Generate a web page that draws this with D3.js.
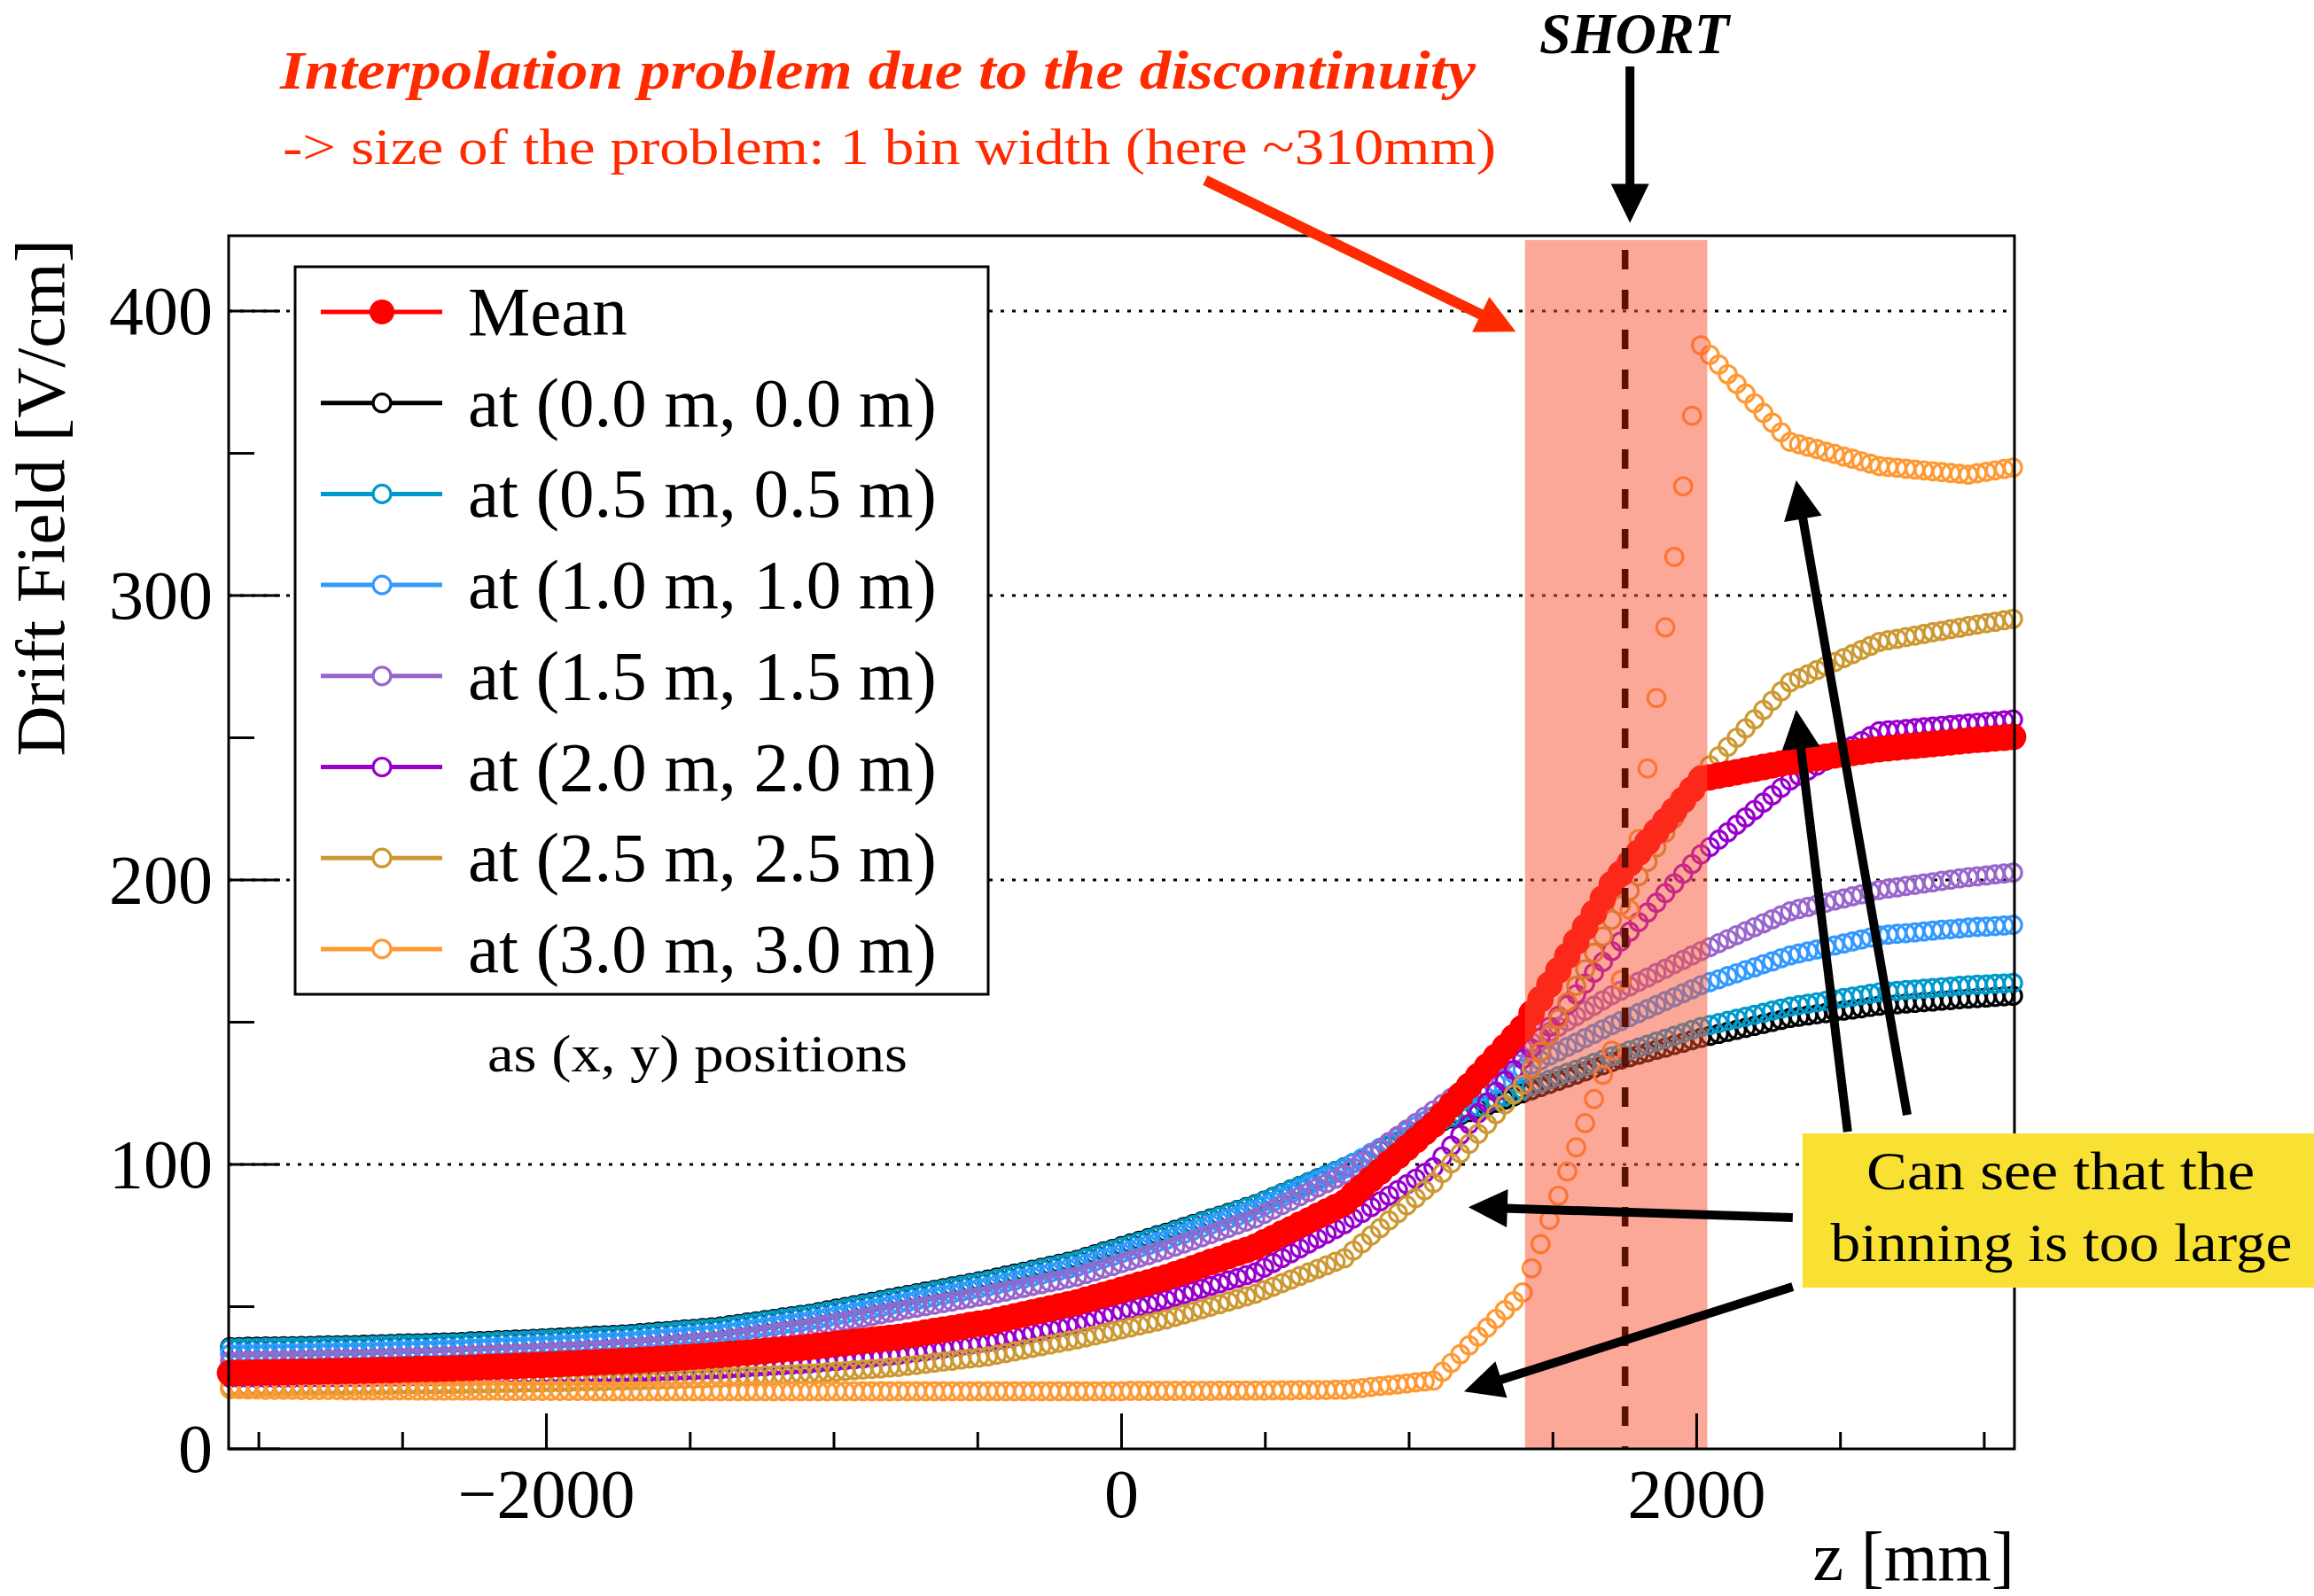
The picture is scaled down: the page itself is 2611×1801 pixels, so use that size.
<!DOCTYPE html>
<html>
<head>
<meta charset="utf-8">
<script src="https://cdn.jsdelivr.net/npm/d3@7"></script>
<style>
  html, body { margin: 0; padding: 0; background: #ffffff; }
  svg { display: block; }
</style>
</head>
<body>
<svg id="chart" width="2611" height="1801"></svg>
<script>
// z sampling positions [mm]
const zValues = [
  -3100,-3069,-3038,-3007,-2976,-2945,-2914,-2883,-2852,-2821,
  -2790,-2759,-2728,-2697,-2666,-2635,-2604,-2573,-2542,-2511,
  -2480,-2449,-2418,-2387,-2356,-2325,-2294,-2263,-2232,-2201,
  -2170,-2139,-2108,-2077,-2046,-2015,-1984,-1953,-1922,-1891,
  -1860,-1829,-1798,-1767,-1736,-1705,-1674,-1643,-1612,-1581,
  -1550,-1519,-1488,-1457,-1426,-1395,-1364,-1333,-1302,-1271,
  -1240,-1209,-1178,-1147,-1116,-1085,-1054,-1023,-992,-961,
  -930,-899,-868,-837,-806,-775,-744,-713,-682,-651,
  -620,-589,-558,-527,-496,-465,-434,-403,-372,-341,
  -310,-279,-248,-217,-186,-155,-124,-93,-62,-31,
  0,31,62,93,124,155,186,217,248,279,
  310,341,372,403,434,465,496,527,558,589,
  620,651,682,713,744,775,806,837,868,899,
  930,961,992,1023,1054,1085,1116,1147,1178,1209,
  1240,1271,1302,1333,1364,1395,1426,1457,1488,1519,
  1550,1581,1612,1643,1674,1705,1736,1767,1798,1829,
  1860,1891,1922,1953,1984,2015,2046,2077,2108,2139,
  2170,2201,2232,2263,2294,2325,2356,2387,2418,2449,
  2480,2511,2542,2573,2604,2635,2666,2697,2728,2759,
  2790,2821,2852,2883,2914,2945,2976,3007,3038,3069,
  3100
];

// Drift field [V/cm] at (0.0 m, 0.0 m)
const field00 = [
  35.8,35.8,35.9,35.9,36.0,36.0,
  36.1,36.1,36.2,36.2,36.3,36.4,36.4,36.5,36.5,36.6,
  36.7,36.8,36.9,37.0,37.1,37.1,37.2,37.3,37.4,37.5,
  37.6,37.8,37.9,38.0,38.2,38.3,38.4,38.5,38.7,38.8,
  39.0,39.1,39.3,39.4,39.6,39.8,39.9,40.1,40.2,40.4,
  40.7,40.9,41.2,41.4,41.7,42.0,42.2,42.5,42.7,43.0,
  43.5,43.9,44.4,44.8,45.3,45.7,46.2,46.6,47.1,47.5,
  48.1,48.7,49.3,49.9,50.5,51.1,51.7,52.3,52.9,53.5,
  54.1,54.7,55.3,55.9,56.5,57.1,57.7,58.3,58.9,59.5,
  60.2,60.9,61.6,62.3,63.0,63.7,64.4,65.1,65.8,66.5,
  67.5,68.4,69.4,70.3,71.3,72.2,73.2,74.1,75.1,76.0,
  77.0,78.0,79.0,80.0,81.0,82.0,83.0,84.0,85.0,86.0,
  87.3,88.6,89.9,91.2,92.5,93.8,95.1,96.4,97.7,99.0,
  100.5,102.0,103.5,105.0,106.5,108.0,109.5,111.0,112.5,114.0,
  115.1,116.2,117.3,118.4,119.5,120.6,121.7,122.8,123.9,125.0,
  126.1,127.2,128.3,129.4,130.5,131.6,132.7,133.8,134.9,136.0,
  136.9,137.7,138.6,139.4,140.3,141.1,142.0,142.8,143.7,144.5,
  145.2,145.9,146.6,147.3,148.0,148.7,149.4,150.1,150.8,151.5,
  151.9,152.4,152.8,153.2,153.7,154.1,154.5,154.9,155.4,155.8,
  156.1,156.3,156.6,156.8,157.1,157.3,157.6,157.8,158.1,158.3,
  158.5,158.7,158.9,159.1,159.3
];

// Drift field at (0.5 m, 0.5 m)
const field05 = [
  35.4,35.4,35.5,35.5,35.6,35.6,
  35.7,35.7,35.8,35.8,35.9,36.0,36.0,36.1,36.1,36.2,
  36.3,36.4,36.5,36.6,36.7,36.7,36.8,36.9,37.0,37.1,
  37.2,37.4,37.5,37.6,37.8,37.9,38.0,38.1,38.3,38.4,
  38.6,38.7,38.9,39.0,39.2,39.4,39.5,39.7,39.8,40.0,
  40.3,40.5,40.8,41.0,41.3,41.6,41.8,42.1,42.3,42.6,
  43.1,43.5,44.0,44.4,44.9,45.3,45.8,46.2,46.7,47.1,
  47.7,48.3,48.9,49.5,50.1,50.7,51.3,51.9,52.5,53.1,
  53.7,54.3,54.9,55.5,56.1,56.7,57.3,57.9,58.5,59.1,
  59.8,60.5,61.2,61.9,62.6,63.3,64.0,64.7,65.4,66.1,
  67.1,68.0,69.0,69.9,70.9,71.8,72.8,73.7,74.7,75.6,
  76.6,77.6,78.7,79.7,80.7,81.7,82.7,83.8,84.8,85.8,
  87.1,88.4,89.8,91.1,92.4,93.7,95.0,96.4,97.7,99.0,
  100.5,102.1,103.6,105.1,106.7,108.2,109.7,111.2,112.8,114.3,
  115.5,116.7,117.9,119.1,120.3,121.5,122.7,123.9,125.1,126.3,
  127.5,128.6,129.8,131.0,132.2,133.3,134.5,135.7,136.8,138.0,
  139.0,140.1,141.1,142.1,143.2,144.2,145.2,146.2,147.3,148.3,
  149.0,149.7,150.5,151.2,151.9,152.6,153.3,154.1,154.8,155.5,
  156.0,156.5,157.0,157.5,158.0,158.5,159.0,159.5,160.0,160.5,
  160.8,161.0,161.3,161.5,161.8,162.0,162.3,162.5,162.8,163.0,
  163.2,163.3,163.5,163.6,163.8
];

// Drift field at (1.0 m, 1.0 m)
const field10 = [
  33.3,33.3,33.4,33.4,33.5,33.5,
  33.6,33.6,33.7,33.7,33.8,33.9,33.9,34.0,34.0,34.1,
  34.2,34.3,34.4,34.5,34.6,34.6,34.7,34.8,34.9,35.0,
  35.1,35.3,35.4,35.5,35.7,35.8,35.9,36.0,36.2,36.3,
  36.5,36.6,36.8,36.9,37.1,37.3,37.4,37.6,37.7,37.9,
  38.2,38.4,38.7,38.9,39.2,39.5,39.7,40.0,40.2,40.5,
  41.0,41.4,41.9,42.3,42.8,43.2,43.7,44.1,44.6,45.0,
  45.6,46.2,46.8,47.4,48.0,48.6,49.2,49.8,50.4,51.0,
  51.6,52.2,52.8,53.4,54.0,54.6,55.2,55.8,56.4,57.0,
  57.7,58.4,59.1,59.8,60.5,61.2,61.9,62.6,63.3,64.0,
  65.0,65.9,66.9,67.8,68.8,69.7,70.7,71.6,72.6,73.5,
  74.6,75.6,76.7,77.7,78.8,79.8,80.9,81.9,83.0,84.0,
  85.5,86.9,88.4,89.8,91.3,92.7,94.2,95.6,97.1,98.5,
  100.4,102.2,104.1,105.9,107.8,109.6,111.5,113.3,115.2,117.0,
  118.7,120.3,122.0,123.6,125.3,126.9,128.6,130.2,131.9,133.5,
  135.1,136.6,138.2,139.7,141.3,142.8,144.4,145.9,147.5,149.0,
  150.4,151.8,153.2,154.6,156.0,157.4,158.8,160.2,161.6,163.0,
  164.1,165.1,166.2,167.2,168.3,169.3,170.4,171.4,172.5,173.5,
  174.2,174.9,175.6,176.3,177.0,177.7,178.4,179.1,179.8,180.5,
  180.8,181.1,181.3,181.6,181.9,182.2,182.5,182.7,183.0,183.3,
  183.5,183.6,183.8,184.0,184.2
];

// Drift field at (1.5 m, 1.5 m)
const field15 = [
  30.8,30.8,30.9,30.9,31.0,31.0,
  31.1,31.1,31.2,31.2,31.3,31.4,31.4,31.5,31.5,31.6,
  31.7,31.8,31.9,32.0,32.1,32.1,32.2,32.3,32.4,32.5,
  32.6,32.8,32.9,33.0,33.2,33.3,33.4,33.5,33.7,33.8,
  34.0,34.1,34.3,34.4,34.6,34.8,34.9,35.1,35.2,35.4,
  35.7,35.9,36.2,36.4,36.7,37.0,37.2,37.5,37.7,38.0,
  38.5,38.9,39.4,39.8,40.3,40.7,41.2,41.6,42.1,42.5,
  43.1,43.7,44.3,44.9,45.5,46.1,46.7,47.3,47.9,48.5,
  49.1,49.6,50.2,50.7,51.3,51.8,52.4,52.9,53.5,54.0,
  54.7,55.3,56.0,56.6,57.3,57.9,58.6,59.2,59.9,60.5,
  61.5,62.4,63.4,64.3,65.3,66.2,67.2,68.1,69.1,70.0,
  71.1,72.2,73.3,74.4,75.5,76.6,77.7,78.8,79.9,81.0,
  82.6,84.1,85.7,87.2,88.8,90.3,91.9,93.4,95.0,96.5,
  98.8,101.0,103.3,105.5,107.8,110.0,112.3,114.5,116.8,119.0,
  121.2,123.4,125.6,127.8,130.0,132.2,134.4,136.6,138.8,141.0,
  142.9,144.7,146.6,148.4,150.3,152.1,154.0,155.8,157.7,159.5,
  161.1,162.6,164.2,165.7,167.3,168.8,170.4,171.9,173.5,175.0,
  176.4,177.8,179.2,180.6,182.0,183.4,184.8,186.2,187.6,189.0,
  189.8,190.5,191.3,192.0,192.8,193.5,194.3,195.0,195.8,196.5,
  197.0,197.4,197.9,198.3,198.8,199.2,199.7,200.1,200.6,201.0,
  201.3,201.6,202.0,202.3,202.6
];

// Drift field at (2.0 m, 2.0 m)
const field20 = [
  25.0,25.0,25.0,25.0,25.0,25.0,
  25.0,25.0,25.1,25.1,25.1,25.1,25.1,25.2,25.2,25.2,
  25.2,25.3,25.3,25.3,25.4,25.4,25.4,25.4,25.5,25.5,
  25.6,25.6,25.7,25.7,25.8,25.8,25.9,25.9,26.0,26.0,
  26.1,26.2,26.2,26.3,26.4,26.5,26.6,26.6,26.7,26.8,
  26.9,27.0,27.2,27.3,27.4,27.5,27.6,27.8,27.9,28.0,
  28.2,28.4,28.6,28.8,29.0,29.2,29.4,29.6,29.8,30.0,
  30.3,30.6,30.9,31.2,31.5,31.8,32.1,32.4,32.7,33.0,
  33.5,33.9,34.4,34.8,35.3,35.7,36.2,36.6,37.1,37.5,
  38.2,38.8,39.5,40.1,40.8,41.4,42.1,42.7,43.4,44.0,
  44.9,45.7,46.6,47.4,48.3,49.1,50.0,50.8,51.7,52.5,
  53.5,54.4,55.4,56.3,57.3,58.2,59.2,60.1,61.1,62.0,
  63.7,65.4,67.1,68.8,70.5,72.2,73.9,75.6,77.3,79.0,
  81.0,83.0,85.0,87.0,89.0,91.0,93.0,95.0,97.0,99.0,
  102.8,106.6,110.4,114.2,118.0,121.8,125.6,129.4,133.2,137.0,
  140.8,144.6,148.4,152.2,156.0,159.8,163.6,167.4,171.2,175.0,
  178.4,181.8,185.2,188.6,192.0,195.4,198.8,202.2,205.6,209.0,
  211.6,214.2,216.8,219.4,222.0,224.6,227.2,229.8,232.4,235.0,
  236.7,238.5,240.2,241.9,243.7,245.4,247.1,248.8,250.6,252.3,
  252.6,252.8,253.1,253.4,253.7,253.9,254.2,254.5,254.7,255.0,
  255.3,255.6,255.8,256.1,256.4
];

// Drift field at (2.5 m, 2.5 m)
const field25 = [
  21.8,21.8,21.9,21.9,22.0,22.0,
  22.0,22.1,22.1,22.1,22.2,22.2,22.2,22.2,22.3,22.3,
  22.3,22.4,22.4,22.5,22.5,22.5,22.6,22.6,22.7,22.7,
  22.8,22.8,22.9,22.9,23.0,23.1,23.1,23.2,23.2,23.3,
  23.4,23.4,23.5,23.6,23.7,23.7,23.8,23.9,23.9,24.0,
  24.1,24.2,24.3,24.4,24.5,24.6,24.7,24.8,24.9,25.0,
  25.2,25.3,25.5,25.6,25.8,25.9,26.1,26.2,26.4,26.5,
  26.7,27.0,27.2,27.4,27.7,27.9,28.1,28.3,28.6,28.8,
  29.2,29.5,29.9,30.3,30.7,31.0,31.4,31.8,32.1,32.5,
  33.1,33.7,34.3,34.9,35.5,36.1,36.7,37.3,37.9,38.5,
  39.2,39.9,40.6,41.3,42.0,42.7,43.4,44.1,44.8,45.5,
  46.4,47.3,48.2,49.1,50.0,50.9,51.8,52.7,53.6,54.5,
  55.8,57.0,58.3,59.5,60.8,62.0,63.3,64.5,65.8,67.0,
  69.7,72.3,75.0,77.6,80.3,82.9,85.6,88.2,90.9,93.5,
  97.0,100.4,103.9,107.3,110.8,114.2,117.7,121.1,124.6,128.0,
  133.8,139.6,145.4,151.2,157.0,162.8,168.6,174.4,180.2,186.0,
  191.1,196.2,201.3,206.4,211.5,216.6,221.7,226.8,231.9,237.0,
  240.3,243.5,246.8,250.0,253.3,256.5,259.8,263.0,266.3,269.5,
  270.9,272.3,273.8,275.2,276.6,278.0,279.4,280.9,282.3,283.7,
  284.3,284.8,285.4,285.9,286.5,287.1,287.6,288.2,288.7,289.3,
  289.8,290.3,290.8,291.3,291.8
];

// Drift field at (3.0 m, 3.0 m)
const field30 = [
  21.0,21.0,20.9,20.9,20.8,20.8,
  20.8,20.8,20.7,20.7,20.7,20.7,20.7,20.6,20.6,20.6,
  20.6,20.6,20.6,20.6,20.6,20.5,20.5,20.5,20.5,20.5,
  20.5,20.5,20.5,20.5,20.5,20.4,20.4,20.4,20.4,20.4,
  20.4,20.4,20.4,20.4,20.4,20.3,20.3,20.3,20.3,20.3,
  20.3,20.3,20.3,20.3,20.3,20.3,20.3,20.3,20.3,20.3,
  20.3,20.3,20.3,20.3,20.3,20.3,20.3,20.3,20.3,20.3,
  20.3,20.3,20.3,20.3,20.3,20.3,20.3,20.3,20.3,20.3,
  20.3,20.3,20.3,20.3,20.3,20.3,20.3,20.3,20.3,20.3,
  20.3,20.3,20.3,20.3,20.3,20.3,20.3,20.3,20.3,20.3,
  20.3,20.3,20.3,20.3,20.3,20.4,20.4,20.4,20.4,20.4,
  20.4,20.4,20.4,20.4,20.4,20.5,20.5,20.5,20.5,20.5,
  20.5,20.6,20.6,20.6,20.7,20.7,20.7,20.7,20.8,20.8,
  21.1,21.4,21.8,22.1,22.4,22.7,23.0,23.4,23.7,24.0,
  27.1,30.2,33.3,36.4,39.5,42.6,45.7,48.8,51.9,55.0,
  63.5,72.0,80.5,89.0,97.5,106.0,114.5,123.0,131.5,140.0,
  164.8,189.6,214.4,239.2,264.0,288.8,313.6,338.4,363.2,388.0,
  384.6,381.2,377.8,374.4,371.0,367.6,364.2,360.8,357.4,354.0,
  353.2,352.3,351.5,350.6,349.8,348.9,348.1,347.2,346.4,345.5,
  345.2,344.9,344.6,344.3,344.0,343.7,343.4,343.1,342.8,342.5,
  343.0,343.5,344.0,344.5,345.0
];

// Mean drift field over the (x, y) positions
const fieldMean = [
  26.7,26.7,26.8,26.8,26.9,26.9,
  27.0,27.0,27.1,27.1,27.2,27.3,27.3,27.4,27.4,27.5,
  27.6,27.7,27.7,27.8,27.9,28.0,28.1,28.1,28.2,28.3,
  28.4,28.5,28.7,28.8,28.9,29.0,29.1,29.3,29.4,29.5,
  29.7,29.8,30.0,30.1,30.3,30.4,30.6,30.7,30.9,31.0,
  31.2,31.4,31.6,31.8,32.0,32.2,32.4,32.6,32.8,33.0,
  33.3,33.6,33.8,34.1,34.4,34.7,35.0,35.2,35.5,35.8,
  36.2,36.5,36.9,37.2,37.6,37.9,38.3,38.6,39.0,39.3,
  39.8,40.3,40.9,41.4,41.9,42.4,42.9,43.5,44.0,44.5,
  45.2,45.9,46.6,47.3,48.0,48.7,49.4,50.1,50.8,51.5,
  52.4,53.3,54.1,55.0,55.9,56.8,57.7,58.5,59.4,60.3,
  61.4,62.4,63.5,64.6,65.7,66.7,67.8,68.9,69.9,71.0,
  72.6,74.1,75.7,77.2,78.8,80.3,81.9,83.4,85.0,86.5,
  89.3,92.0,94.8,97.5,100.3,103.0,105.8,108.5,111.3,114.0,
  117.4,120.8,124.2,127.6,131.0,134.4,137.8,141.2,144.6,148.0,
  153.1,158.1,163.2,168.2,173.3,178.3,183.4,188.4,193.5,198.5,
  202.2,205.9,209.6,213.3,217.0,220.7,224.4,228.1,231.8,235.5,
  236.1,236.7,237.3,237.9,238.5,239.1,239.7,240.3,240.9,241.5,
  242.0,242.4,242.9,243.3,243.8,244.2,244.7,245.1,245.6,246.0,
  246.3,246.6,246.9,247.2,247.5,247.8,248.1,248.4,248.7,249.0,
  249.3,249.5,249.8,250.0,250.3
];

// Legend labels and colours, in legend order
const seriesLabels = ["Mean", "at (0.0 m, 0.0 m)", "at (0.5 m, 0.5 m)", "at (1.0 m, 1.0 m)",
  "at (1.5 m, 1.5 m)", "at (2.0 m, 2.0 m)", "at (2.5 m, 2.5 m)", "at (3.0 m, 3.0 m)"];
const seriesColors = ["#ff0000", "#000000", "#0099cc", "#3399ff", "#9966cc", "#9900cc", "#cc9933", "#ff9933"];
const seriesValues = [fieldMean, field00, field05, field10, field15, field20, field25, field30];

// Axis ticks
const yMajorTicks = [0, 100, 200, 300, 400];
const yMinorTicks = [50, 150, 250, 350];
const xMajorTicks = [-2000, 0, 2000];
const xMinorTicks = [-3000, -2500, -1500, -1000, -500, 500, 1000, 1500, 2500, 3000];
const gridValues = [100, 200, 300, 400];

// Highlighted short region and its centre [mm]
const shortRegion = [1403, 2037];
const shortPosition = 1751;

const svg = d3.select("#chart");
const frame = { left: 258, right: 2273, top: 266, bottom: 1635 };

const x = d3.scaleLinear().domain([-3105, 3105]).range([frame.left, frame.right]);
const y = d3.scaleLinear().domain([0, 426.5]).range([frame.bottom, frame.top]);

const SERIF = "'Liberation Serif', 'Times New Roman', serif";

// ---- grid ----
const gGrid = svg.append("g");
gGrid.selectAll("line").data(gridValues).join("line")
  .attr("x1", frame.left).attr("x2", frame.right)
  .attr("y1", d => y(d)).attr("y2", d => y(d))
  .attr("stroke", "#000").attr("stroke-width", 3)
  .attr("stroke-dasharray", "4 9");

// ---- markers ----
const gData = svg.append("g");
// draw the individual positions first, the mean on top
const drawOrder = [1, 2, 3, 4, 5, 6, 7, 0];
drawOrder.forEach(si => {
  const vals = seriesValues[si];
  const pts = zValues.map((z, i) => [z, vals[i]]);
  const g = gData.append("g");
  if (si === 0) {
    g.selectAll("circle").data(pts).join("circle")
      .attr("cx", d => x(d[0])).attr("cy", d => y(d[1]))
      .attr("r", 15).attr("fill", seriesColors[si]);
  } else {
    g.selectAll("circle").data(pts).join("circle")
      .attr("cx", d => x(d[0])).attr("cy", d => y(d[1]))
      .attr("r", 9.8).attr("fill", "none")
      .attr("stroke", seriesColors[si]).attr("stroke-width", 3.2);
  }
});

// ---- short region band ----
svg.append("rect")
  .attr("x", x(shortRegion[0])).attr("width", x(shortRegion[1]) - x(shortRegion[0]))
  .attr("y", y(425)).attr("height", y(0) - y(425))
  .attr("fill", "rgb(249,81,51)").attr("fill-opacity", 0.5);

svg.append("line")
  .attr("x1", x(shortPosition)).attr("x2", x(shortPosition))
  .attr("y1", y(421.5)).attr("y2", y(0))
  .attr("stroke", "#5c1000").attr("stroke-width", 7.5)
  .attr("stroke-dasharray", "22 23");

// ---- frame and ticks ----
const gAxes = svg.append("g");
gAxes.append("rect")
  .attr("x", frame.left).attr("y", frame.top)
  .attr("width", frame.right - frame.left).attr("height", frame.bottom - frame.top)
  .attr("fill", "none").attr("stroke", "#000").attr("stroke-width", 3);

gAxes.selectAll(".ymaj").data(yMajorTicks).join("line").attr("class", "ymaj")
  .attr("x1", frame.left).attr("x2", frame.left + 58)
  .attr("y1", d => y(d)).attr("y2", d => y(d))
  .attr("stroke", "#000").attr("stroke-width", 3);
gAxes.selectAll(".ymin").data(yMinorTicks).join("line").attr("class", "ymin")
  .attr("x1", frame.left).attr("x2", frame.left + 29)
  .attr("y1", d => y(d)).attr("y2", d => y(d))
  .attr("stroke", "#000").attr("stroke-width", 3);
gAxes.selectAll(".xmaj").data(xMajorTicks).join("line").attr("class", "xmaj")
  .attr("x1", d => x(d)).attr("x2", d => x(d))
  .attr("y1", frame.bottom).attr("y2", frame.bottom - 40)
  .attr("stroke", "#000").attr("stroke-width", 3);
gAxes.selectAll(".xmin").data(xMinorTicks).join("line").attr("class", "xmin")
  .attr("x1", d => x(d)).attr("x2", d => x(d))
  .attr("y1", frame.bottom).attr("y2", frame.bottom - 19)
  .attr("stroke", "#000").attr("stroke-width", 3);

gAxes.selectAll(".ylab").data(yMajorTicks).join("text").attr("class", "ylab")
  .attr("x", 240).attr("y", d => y(d) + 26)
  .attr("text-anchor", "end")
  .attr("font-family", SERIF).attr("font-size", 78)
  .text(d => d);
gAxes.selectAll(".xlab").data(xMajorTicks).join("text").attr("class", "xlab")
  .attr("x", d => x(d)).attr("y", 1712)
  .attr("text-anchor", "middle")
  .attr("font-family", SERIF).attr("font-size", 78)
  .text(d => d < 0 ? "\u2212" + Math.abs(d) : d);

gAxes.append("text")
  .attr("transform", "translate(72,270) rotate(-90)")
  .attr("text-anchor", "end")
  .attr("font-family", SERIF).attr("font-size", 79)
  .text("Drift Field [V/cm]");
gAxes.append("text")
  .attr("x", frame.right).attr("y", 1783)
  .attr("text-anchor", "end")
  .attr("font-family", SERIF).attr("font-size", 78)
  .text("z [mm]");

// ---- legend ----
const gLeg = svg.append("g");
gLeg.append("rect")
  .attr("x", 333).attr("y", 301).attr("width", 782).attr("height", 821)
  .attr("fill", "#fff").attr("stroke", "#000").attr("stroke-width", 3);
seriesLabels.forEach((lab, i) => {
  const cy = 352 + i * 102.7;
  gLeg.append("line").attr("x1", 362).attr("x2", 499).attr("y1", cy).attr("y2", cy)
    .attr("stroke", seriesColors[i]).attr("stroke-width", 5);
  if (i === 0) {
    gLeg.append("circle").attr("cx", 431).attr("cy", cy).attr("r", 14).attr("fill", seriesColors[i]);
  } else {
    gLeg.append("circle").attr("cx", 431).attr("cy", cy).attr("r", 10)
      .attr("fill", "#fff").attr("stroke", seriesColors[i]).attr("stroke-width", 3.2);
  }
  gLeg.append("text").attr("x", 528).attr("y", cy + 26)
    .attr("font-family", SERIF).attr("font-size", 79).text(lab);
});
gLeg.append("text").attr("x", 550).attr("y", 1209)
  .attr("font-family", SERIF).attr("font-size", 60)
  .attr("textLength", 474).attr("lengthAdjust", "spacingAndGlyphs")
  .text("as (x, y) positions");

// ---- annotations ----
function arrow(g, x1, y1, x2, y2, o) {
  const dx = x2 - x1, dy = y2 - y1, L = Math.hypot(dx, dy);
  const ux = dx / L, uy = dy / L;
  const bx = x2 - ux * o.head, by = y2 - uy * o.head;
  g.append("line").attr("x1", x1).attr("y1", y1).attr("x2", bx + ux * 3).attr("y2", by + uy * 3)
    .attr("stroke", o.color).attr("stroke-width", o.width);
  const hw = o.headW / 2;
  const pts = [[x2, y2], [bx - uy * hw, by + ux * hw], [bx + uy * hw, by - ux * hw]];
  g.append("polygon").attr("points", pts.map(p => p.join(",")).join(" ")).attr("fill", o.color);
}

const gAnn = svg.append("g");
const RED = "#ff2a00";

gAnn.append("text").attr("x", 316).attr("y", 100)
  .attr("font-family", SERIF).attr("font-size", 62)
  .attr("font-weight", "bold").attr("font-style", "italic")
  .attr("fill", RED)
  .attr("textLength", 1349).attr("lengthAdjust", "spacingAndGlyphs")
  .text("Interpolation problem due to the discontinuity");
gAnn.append("text").attr("x", 319).attr("y", 185)
  .attr("font-family", SERIF).attr("font-size", 56)
  .attr("fill", RED)
  .attr("textLength", 1369).attr("lengthAdjust", "spacingAndGlyphs")
  .text("-> size of the problem: 1 bin width (here ~310mm)");

gAnn.append("text").attr("x", 1737).attr("y", 60)
  .attr("font-family", SERIF).attr("font-size", 66)
  .attr("font-weight", "bold").attr("font-style", "italic")
  .attr("textLength", 214).attr("lengthAdjust", "spacingAndGlyphs")
  .text("SHORT");

// arrow from SHORT label down to the short position
arrow(gAnn, x(1768), y(486), x(1768), y(431), { color: "#000", width: 10, head: 44, headW: 43 });
// red arrow to the discontinuity band
arrow(gAnn, x(291), y(446), x(1371), y(392.8), { color: RED, width: 12, head: 44, headW: 44 });

// yellow note box
gAnn.append("rect").attr("x", x(2368)).attr("y", y(110.9))
  .attr("width", 2611 - x(2368)).attr("height", y(56.7) - y(110.9))
  .attr("fill", "#f8e133");
gAnn.append("text").attr("x", 2325).attr("y", 1342).attr("text-anchor", "middle")
  .attr("font-family", SERIF).attr("font-size", 62)
  .attr("textLength", 438).attr("lengthAdjust", "spacingAndGlyphs")
  .text("Can see that the");
gAnn.append("text").attr("x", 2326).attr("y", 1423).attr("text-anchor", "middle")
  .attr("font-family", SERIF).attr("font-size", 62)
  .attr("textLength", 521).attr("lengthAdjust", "spacingAndGlyphs")
  .text("binning is too large");

const blackArrow = { color: "#000", width: 10, head: 44, headW: 43 };
arrow(gAnn, x(2334), y(81.3), x(1206), y(85.0), blackArrow);
arrow(gAnn, x(2334), y(57.0), x(1191), y(20.2), blackArrow);
arrow(gAnn, x(2525), y(111.5), x(2346), y(259.8), blackArrow);
arrow(gAnn, x(2732), y(117.4), x(2346), y(340.5), blackArrow);
</script>
</body>
</html>
